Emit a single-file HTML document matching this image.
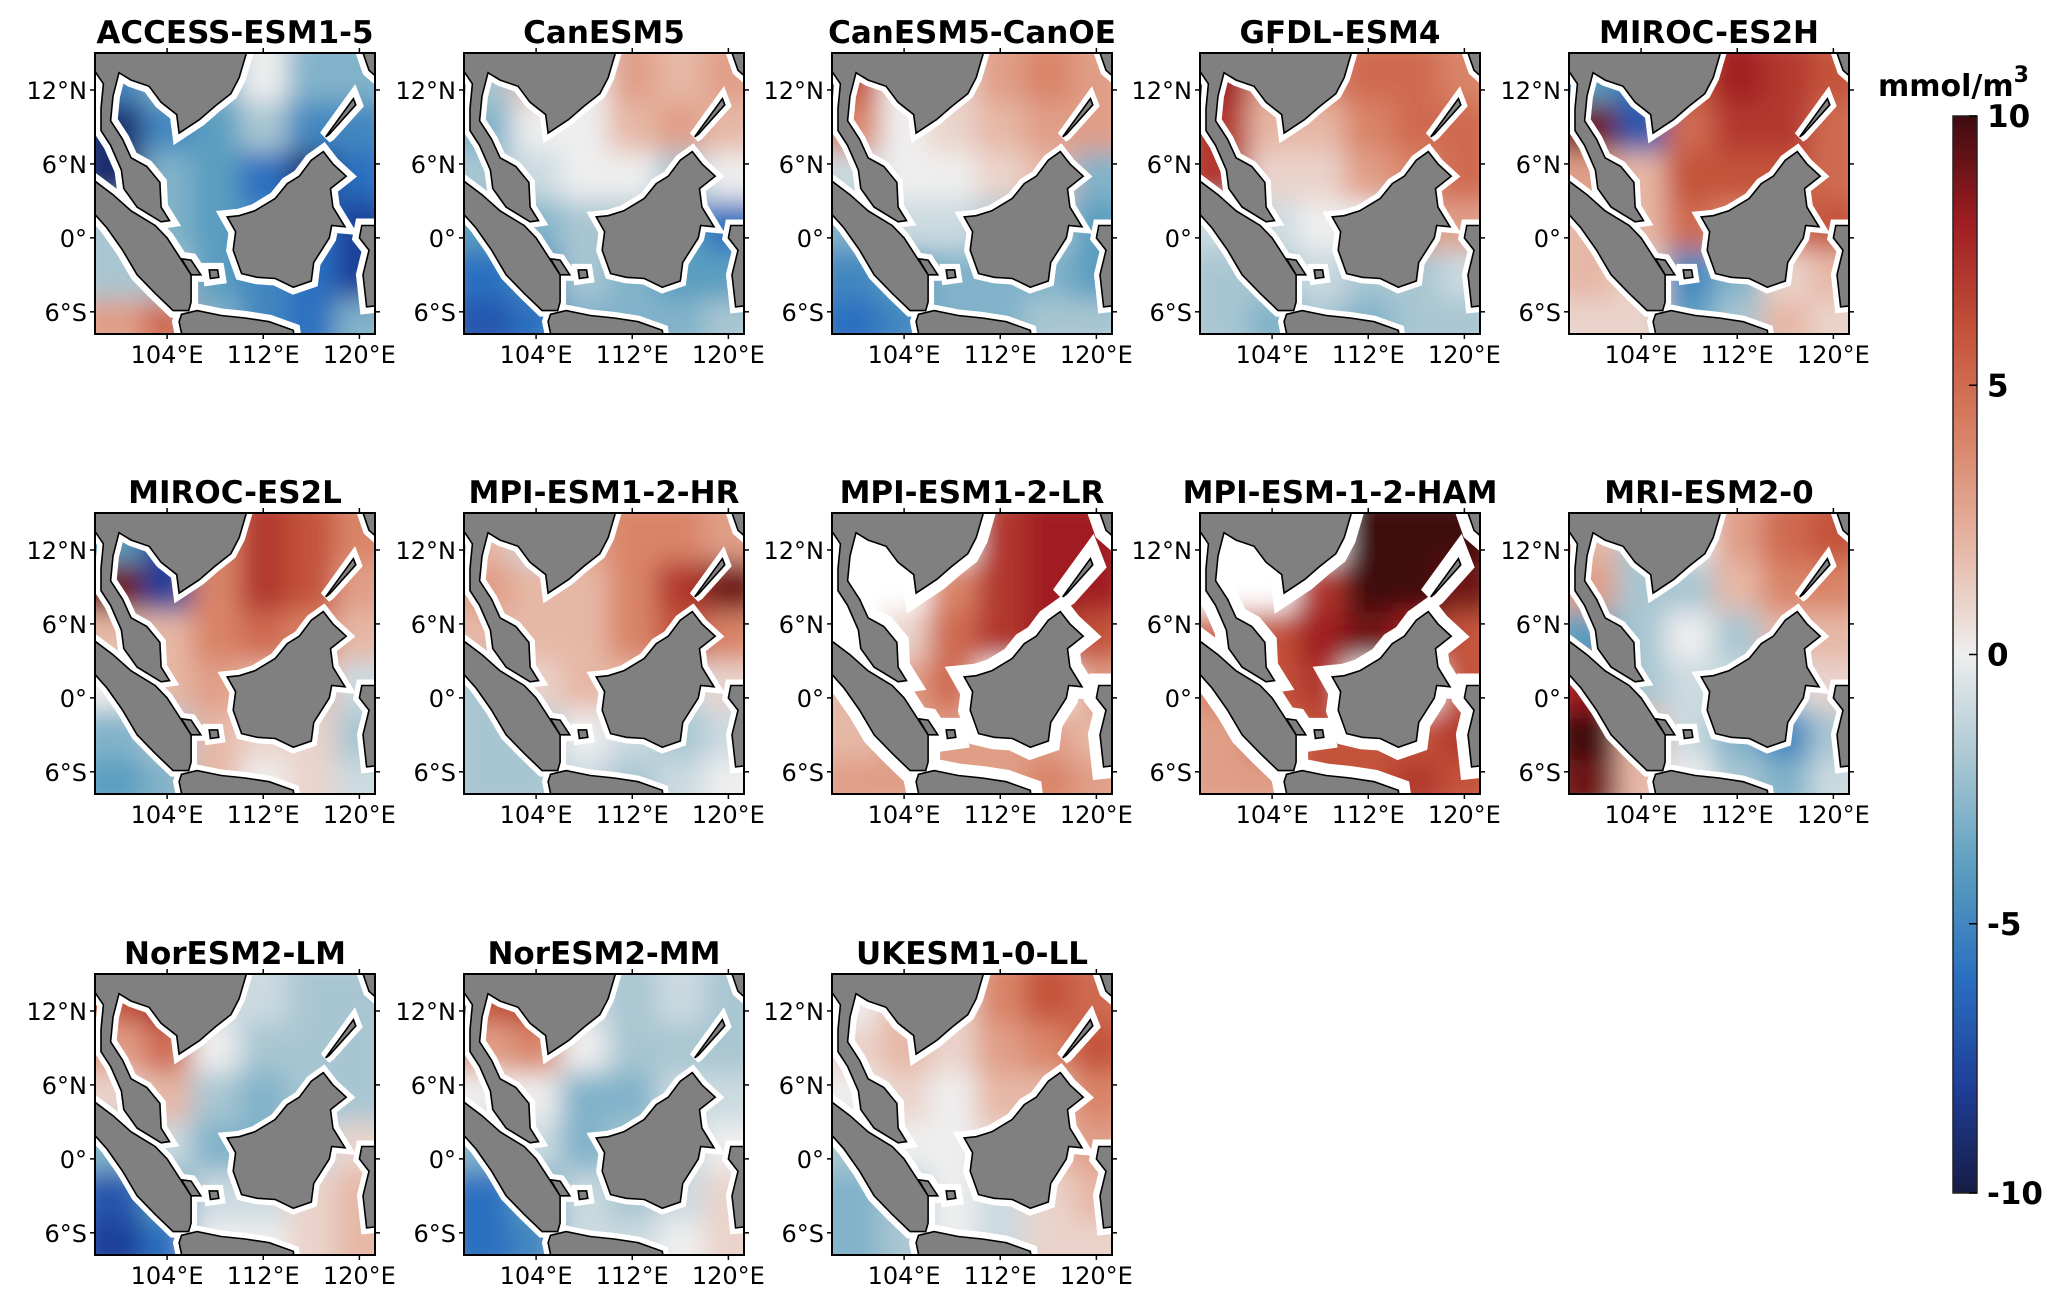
<!DOCTYPE html>
<html><head><meta charset="utf-8">
<style>
html,body{margin:0;padding:0;background:#fff;}
svg{display:block;font-family:"DejaVu Sans","Liberation Sans",sans-serif;}
</style></head>
<body>
<svg id="fig" width="2067" height="1302" viewBox="0 0 2067 1302" xmlns="http://www.w3.org/2000/svg">
<defs>
<filter id="blur" x="-10%" y="-10%" width="120%" height="120%"><feGaussianBlur stdDeviation="13"/></filter>
<linearGradient id="cbgrad" x1="0" y1="1" x2="0" y2="0">
<stop offset="0" stop-color="#161c44"/><stop offset="0.1" stop-color="#1f3f9a"/><stop offset="0.2" stop-color="#2a6fc0"/>
<stop offset="0.3" stop-color="#5a9ec0"/><stop offset="0.4" stop-color="#a8c6d2"/><stop offset="0.5" stop-color="#eeeeee"/>
<stop offset="0.6" stop-color="#e6b7a6"/><stop offset="0.7" stop-color="#d98468"/><stop offset="0.8" stop-color="#c4523a"/>
<stop offset="0.9" stop-color="#a01e22"/><stop offset="1" stop-color="#3f0b10"/>
</linearGradient>
</defs>
</svg>
<script>
// ---- data ----
const models = ["ACCESS-ESM1-5","CanESM5","CanESM5-CanOE","GFDL-ESM4","MIROC-ES2H","MIROC-ES2L","MPI-ESM1-2-HR","MPI-ESM1-2-LR","MPI-ESM-1-2-HAM","MRI-ESM2-0","NorESM2-LM","NorESM2-MM","UKESM1-0-LL"];
const lonBins = [98,102,106,110,114,118,121.3];
const latBins = [15,11,7,3,-1,-5,-7.8];
const xTicks = [104,112,120];
const xTickLabels = ["104°E","112°E","120°E"];
const yTicks = [12,6,0,-6];
const yTickLabels = ["12°N","6°N","0°","6°S"];
const cbTicks = [10,5,0,-5,-10];
const v0 = [[-5,-3,-3,0,-3,-3],[-9,-5,-4,-2,-5,-5],[-9,-3,-4,-6,-9,-6],[-2,-3,-4,-5,-6,-8],[-2,-2,-4,-5,-6,-8],[3,5,-3,-5,-6,-3]];
const v1 = [[-2,2,0,3,2,3],[-3,0,0,2,3,2],[-2,-1,0,0,-2,0],[-4,-3,-2,-2,-4,-6],[-6,-5,-2,-3,-4,-4],[-7,-6,-3,-3,-3,-2]];
const v2 = [[6,0,1,3,4,3],[4,0,1,2,3,3],[-1,0,0,1,2,-3],[-3,-1,-1,-2,-2,-4],[-5,-4,-3,-3,-3,-4],[-6,-5,-3,-3,-2,-2]];
const v3 = [[8,3,4,5,5,4],[7,2,2,4,5,5],[7,1,1,3,4,5],[-1,-1,0,0,3,3],[-2,-2,-1,-2,-2,-1],[-2,-3,-2,-3,-2,-2]];
const v4 = [[-4,-6,6,8,7,6],[9,-7,5,7,7,5],[3,2,6,6,6,5],[2,2,5,4,5,6],[2,1,-5,-3,1,2],[1,1,-4,-2,2,1]];
const v5 = [[-4,-8,4,7,6,4],[9,-8,4,7,6,3],[2,2,4,5,4,2],[0,2,3,2,2,-1],[-3,-2,2,1,1,-2],[-4,-3,2,0,1,-1]];
const v6 = [[2,-1,3,4,4,3],[3,2,2,4,7,9],[2,2,2,4,6,4],[-2,1,2,2,-1,1],[-2,-2,0,-1,-2,-1],[-2,-2,-1,-2,-1,0]];
const v7 = [[null,null,null,7,8,8],[null,null,4,7,8,8],[null,1,5,7,8,6],[2,3,5,null,null,3],[2,3,3,3,3,2],[3,3,3,3,4,3]];
const v8 = [[null,null,null,10,10,10],[null,null,7,10,10,9],[5,6,8,9,8,6],[4,6,7,null,null,6],[3,5,6,6,6,7],[3,3,6,6,7,6]];
const v9 = [[2,-2,0,3,5,6],[3,-2,-2,2,4,4],[-4,-2,0,-2,2,2],[8,-2,-1,-1,-1,1],[10,2,-1,-3,-5,-2],[9,2,0,-2,-3,-1]];
const v10 = [[6,8,-1,-1,-2,-2],[3,5,0,-2,-2,-2],[1,2,-2,-3,-2,-2],[-3,-1,-3,-3,-1,1],[-7,-4,-1,-1,1,2],[-8,-6,0,0,1,2]];
const v11 = [[6,7,-1,-2,-1,-2],[3,4,0,-2,-2,-2],[0,0,-3,-3,-1,-1],[-3,-1,-3,-2,-1,0],[-6,-4,-1,-2,-1,1],[-6,-5,-1,-1,0,1]];
const v12 = [[0,2,1,4,6,5],[1,2,1,3,4,6],[0,1,0,2,2,4],[-2,0,0,1,2,3],[-3,-2,0,-1,1,2],[-3,-2,0,-1,1,1]];
const fields = [v0,v1,v2,v3,v4,v5,v6,v7,v8,v9,v10,v11,v12];
const maskWidths = [14,12,12,12,12,12,12,24,24,12,12,12,14];

// ---- geometry (land outlines, lon/lat) ----
const land = [
 [[98,15],[110.6,15],[110,13],[109.3,11.7],[108,10.7],[106.7,9.6],[105,8.5],[104.8,10],[103.5,11],[102.5,12.3],[101,12.8],[100,13.4],[99.5,11.5],[99.3,9.5],[100.3,8],[101,6.5],[102.3,5.8],[103.4,4.5],[103.5,2.5],[104.2,1.4],[103.5,1.3],[101.5,2.5],[100.4,4],[100.2,5.5],[99.3,7.5],[98.5,8.7],[98.5,10.5],[98.7,12.5],[98,13.5]],
 [[98,4.6],[99.5,3.5],[101,2.2],[103,1],[104,0],[105,-1.5],[106,-3],[106,-5.2],[105.8,-5.9],[104.5,-5.9],[103,-4.5],[101.5,-3],[100.3,-1],[99,0.8],[98,1.9]],
 [[109,1.7],[109.7,0.5],[109.5,-1],[110.2,-2.9],[111.5,-3.2],[113,-3.3],[114.5,-4],[116,-3.5],[116.2,-2],[117.5,0],[117.7,1],[118.8,0.9],[117.8,2.5],[117.6,4],[118.9,5],[117.8,6],[117,7],[116,6.3],[115,5],[114,4.4],[113,3.2],[111.3,2.2],[110,1.8]],
 [[105.2,-6.2],[106.5,-5.9],[108.5,-6.3],[110.5,-6.5],[112.5,-6.8],[114.5,-7.5],[114.6,-8.2],[105.3,-8.2],[105,-6.8]],
 [[117.2,8.2],[119.5,11.3],[119.7,10.8],[117.5,8.4]],
 [[120.2,1],[121.5,1],[121.5,-5.5],[120.6,-5.6],[120.3,-3],[120.8,-1],[120,0]],
 [[105.2,-1.7],[106,-1.8],[106.8,-3],[106,-3]],
 [[107.5,-2.6],[108.2,-2.6],[108.3,-3.2],[107.6,-3.3]],
 [[120.3,15],[121.5,15],[121.5,13],[120.8,13.6]]
];

const NS="http://www.w3.org/2000/svg";
const svg=document.getElementById('fig');
function el(tag,attrs,parent){const e=document.createElementNS(NS,tag);for(const k in attrs)e.setAttribute(k,attrs[k]);(parent||svg).appendChild(e);return e;}

const stops=[[-10,[22,28,68]],[-8,[31,63,154]],[-6,[42,111,192]],[-4,[90,158,192]],[-2,[168,198,210]],[0,[238,238,238]],[2,[230,183,166]],[4,[217,132,104]],[6,[196,82,58]],[8,[160,30,34]],[10,[63,11,16]]];
function cmap(v){v=Math.max(-10,Math.min(10,v));for(let i=0;i<stops.length-1;i++){const a=stops[i],b=stops[i+1];if(v<=b[0]){const t=(v-a[0])/(b[0]-a[0]);const c=a[1].map((x,j)=>Math.round(x+(b[1][j]-x)*t));return `rgb(${c[0]},${c[1]},${c[2]})`;}}return 'rgb(63,11,16)';}

const PW=280, PH=281;
const colX=[95,464,832,1200,1569];
const rowY=[53,513,974];
function lonScale(lon){return (lon-98)*PW/(121.3-98);}
function latScale(lat){return (15-lat)*PH/(15-(-7.8));}

fields.forEach((grid,pi)=>{
  const ox=colX[pi%5], oy=rowY[Math.floor(pi/5)];
  const g=el('g',{transform:`translate(${ox},${oy})`});
  
  
  const cid='clip'+pi;
  const cp=el('clipPath',{id:cid},g);el('rect',{x:0,y:0,width:PW,height:PH},cp);
  const inner=el('g',{'clip-path':`url(#${cid})`},g);
  el('rect',{x:0,y:0,width:PW,height:PH,fill:'#ffffff'},inner);
  const hm=el('g',{filter:'url(#blur)'},inner);
  
  
  grid.forEach((row,r)=>row.forEach((v,c)=>{
    const x0=lonScale(lonBins[c]),x1=lonScale(lonBins[c+1]);
    const y0=latScale(latBins[r]),y1=latScale(latBins[r+1]);
    const pad=(c===0?-20:0),padR=(c===row.length-1?20:0),padT=(r===0?-20:0),padB=(r===grid.length-1?20:0);
    const cell=el('rect',{x:x0+pad,y:y0+padT,width:(x1-x0)-pad+padR+0.5,height:(y1-y0)-padT+padB+0.5,fill:v===null?'#ffffff':cmap(v)},hm);
    
    
  }));
  land.forEach(poly=>{
    const pts=poly.map(p=>lonScale(p[0]).toFixed(1)+','+latScale(p[1]).toFixed(1)).join(' ');
    el('polygon',{points:pts,fill:'#ffffff',stroke:'#ffffff','stroke-width':maskWidths[pi],'stroke-linejoin':'miter'},inner);
  });
  land.forEach(poly=>{
    const pts=poly.map(p=>lonScale(p[0]).toFixed(1)+','+latScale(p[1]).toFixed(1)).join(' ');
    const lp=el('polygon',{points:pts,fill:'#808080',stroke:'#000','stroke-width':1.6},inner);
    
    
  });
  const fr=el('rect',{x:0,y:0,width:PW,height:PH,fill:'none',stroke:'#000','stroke-width':2},g);
  
  
  const t=el('text',{x:PW/2,y:-10,'text-anchor':'middle','font-size':31,'font-weight':'bold',fill:'#000'},g);
  t.textContent=models[pi];
  
  
  xTicks.forEach((lon,i)=>{
    const x=lonScale(lon);
    el('line',{x1:x,y1:PH,x2:x,y2:PH+5,stroke:'#000','stroke-width':1.5},g);
    el('line',{x1:x,y1:0,x2:x,y2:-5,stroke:'#000','stroke-width':1.5},g);
    const tl=el('text',{x:x,y:PH+29,'text-anchor':'middle','font-size':24,fill:'#000'},g);
    tl.textContent=xTickLabels[i];
    
    
  });
  yTicks.forEach((lat,i)=>{
    const y=latScale(lat);
    el('line',{x1:0,y1:y,x2:-5,y2:y,stroke:'#000','stroke-width':1.5},g);
    el('line',{x1:PW,y1:y,x2:PW+5,y2:y,stroke:'#000','stroke-width':1.5},g);
    const tl=el('text',{x:-8,y:y+9,'text-anchor':'end','font-size':24,fill:'#000'},g);
    tl.textContent=yTickLabels[i];
    
    
  });
});

// ---- colorbar ----
const cbX=1953, cbTop=116, cbBot=1193, cbW=24;
function cbScale(v){return cbTop+(10-v)*(cbBot-cbTop)/20;}
const cb=el('g',{});


el('rect',{x:cbX,y:cbTop,width:cbW,height:cbBot-cbTop,fill:'url(#cbgrad)',stroke:'#222','stroke-width':1.5},cb);
cbTicks.forEach(v=>{
  const y=cbScale(v);
  el('line',{x1:cbX+cbW-8,y1:y,x2:cbX+cbW,y2:y,stroke:'#000','stroke-width':1.5},cb);
  const tl=el('text',{x:cbX+cbW+10,y:y+11,'font-size':31,'font-weight':'bold',fill:'#000'},cb);
  tl.textContent=String(v);
  
  
});
const ct=el('text',{x:1878,y:96,'font-size':30,'font-weight':'bold',fill:'#000'},cb);
ct.innerHTML='mmol/m<tspan dy="-14" font-size="22">3</tspan>';


</script>
</body></html>
